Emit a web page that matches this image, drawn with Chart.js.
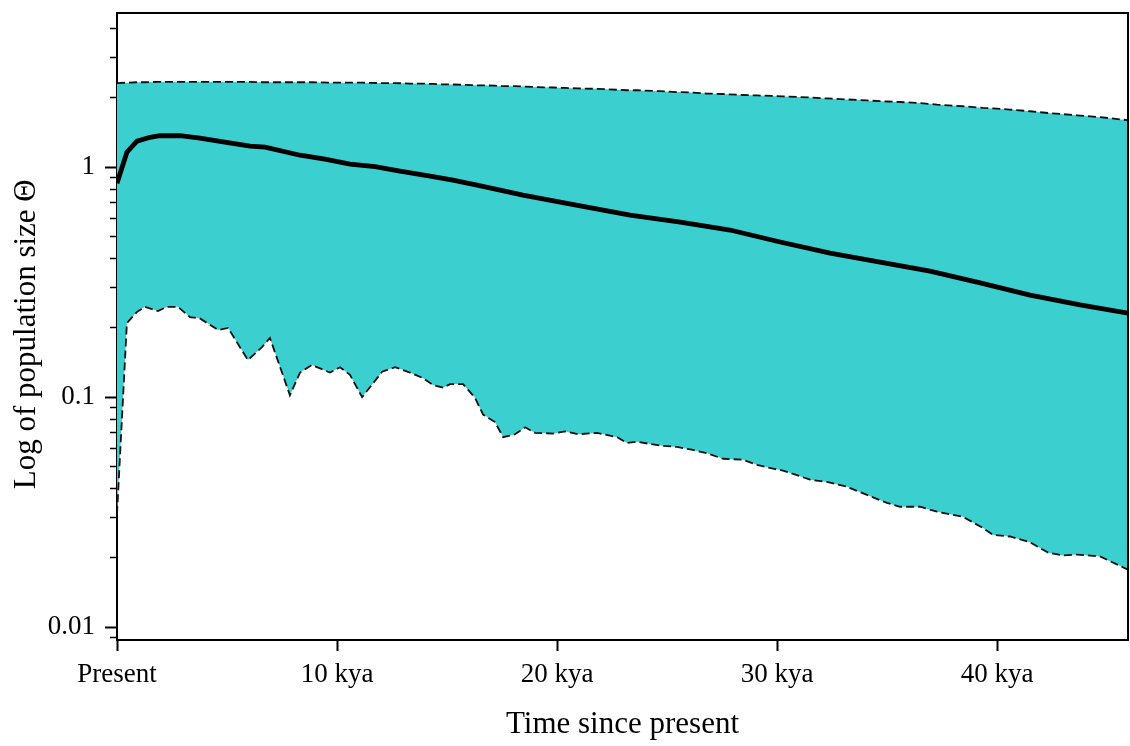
<!DOCTYPE html>
<html>
<head>
<meta charset="utf-8">
<title>Population size through time</title>
<script src="https://cdn.jsdelivr.net/npm/chart.js@4.4.1/dist/chart.umd.min.js"></script>
<style>
  html, body { margin: 0; padding: 0; background: #fff; }
  canvas { display: block; }
</style>
</head>
<body>
<canvas id="chart" width="1130" height="746"></canvas>
<script>
// time points (kya) for the confidence band
const bandTime = [0, 0.45, 0.91, 1.27, 1.86, 2.27, 2.77, 3.32, 3.77, 4.59, 5.05, 5.95, 6.59, 6.95,
  7.86, 8.32, 8.86, 9.68, 10.14, 10.59, 11.14, 12.05, 12.64, 13.32, 13.91, 14.36, 14.82, 15.14,
  15.73, 16.27, 16.64, 17.18, 17.55, 18.09, 18.55, 19.0, 19.82, 20.36, 20.95, 21.82, 22.73, 23.18,
  23.64, 24.68, 25.45, 26.18, 26.82, 27.55, 28.45, 29.09, 29.77, 30.27, 31.5, 32.27, 33.18, 34.09,
  35.0, 35.59, 36.5, 37.27, 38.45, 39.36, 39.82, 40.59, 41.5, 42.32, 43.0, 43.64, 44.68, 45.95];

const upperBound = [2.32, 2.33, 2.34, 2.34, 2.35, 2.35, 2.35, 2.35, 2.35, 2.35, 2.35, 2.35, 2.34, 2.34,
  2.34, 2.34, 2.34, 2.33, 2.33, 2.33, 2.33, 2.32, 2.32, 2.31, 2.31, 2.30, 2.29, 2.29,
  2.28, 2.27, 2.27, 2.26, 2.25, 2.25, 2.24, 2.23, 2.22, 2.21, 2.20, 2.19, 2.17, 2.16,
  2.16, 2.14, 2.12, 2.11, 2.09, 2.08, 2.06, 2.05, 2.04, 2.03, 2.01, 1.99, 1.97, 1.95,
  1.93, 1.92, 1.90, 1.87, 1.84, 1.81, 1.80, 1.78, 1.75, 1.72, 1.70, 1.68, 1.65, 1.60];

const lowerBound = [0.031, 0.21, 0.235, 0.247, 0.237, 0.247, 0.247, 0.223, 0.22, 0.196, 0.2, 0.145, 0.165, 0.181,
  0.102, 0.128, 0.138, 0.128, 0.135, 0.125, 0.1, 0.129, 0.135, 0.128, 0.121, 0.113, 0.11, 0.114,
  0.114, 0.0994, 0.084, 0.078, 0.067, 0.069, 0.074, 0.07, 0.0695, 0.071, 0.069, 0.07, 0.067, 0.0633,
  0.064, 0.0616, 0.0608, 0.059, 0.057, 0.054, 0.0535, 0.0508, 0.049, 0.048, 0.0438, 0.0428, 0.0408, 0.0376,
  0.0347, 0.0334, 0.0334, 0.0318, 0.0302, 0.027, 0.0252, 0.0248, 0.0234, 0.0211, 0.0205, 0.0207, 0.0203, 0.0178];

// median estimate
const meanTime = [0, 0.45, 0.91, 1.5, 1.95, 2.86, 3.77, 4.9, 6.05, 6.73, 8.32, 9.45, 10.59, 11.73,
  12.86, 14.23, 15.27, 16.36, 17.41, 18.45, 19.9, 21.36, 23.32, 25.6, 27.86, 30.14, 32.41, 34.68,
  36.95, 39.23, 41.5, 43.77, 45.95];
const meanSize = [0.852, 1.162, 1.297, 1.349, 1.37, 1.37, 1.337, 1.284, 1.234, 1.222, 1.127, 1.083, 1.03, 1.005,
  0.961, 0.914, 0.878, 0.835, 0.795, 0.756, 0.712, 0.67, 0.619, 0.577, 0.533, 0.473, 0.423, 0.387,
  0.353, 0.314, 0.278, 0.252, 0.232];

const xTickValues = [0, 10, 20, 30, 40];
const xTickLabels = ['Present', '10 kya', '20 kya', '30 kya', '40 kya'];
const yMajorValues = [0.01, 0.1, 1];
const yMajorLabels = ['0.01', '0.1', '1'];
const yMinorValues = [0.009, 0.02, 0.03, 0.04, 0.05, 0.06, 0.07, 0.08, 0.09,
  0.2, 0.3, 0.4, 0.5, 0.6, 0.7, 0.8, 0.9, 2, 3, 4];

const serif = "'Liberation Serif', 'Times New Roman', serif";
const bandColor = '#3ccfcf';

const toPoints = (xs, ys) => xs.map((x, i) => ({ x: x, y: ys[i] }));

// fixed box sizes so the plot frame lands where it should
const fixWidth = (w) => (scale) => { scale.width = w; scale.paddingTop = 0; scale.paddingBottom = 0; };

// top and right spines of the frame
const frame = {
  id: 'frame',
  afterDraw(chart) {
    const { ctx, chartArea: a } = chart;
    ctx.save();
    ctx.strokeStyle = '#000';
    ctx.lineWidth = 2;
    ctx.beginPath();
    ctx.moveTo(a.left, a.top);
    ctx.lineTo(a.right, a.top);
    ctx.lineTo(a.right, a.bottom);
    ctx.stroke();
    ctx.restore();
  }
};

new Chart(document.getElementById('chart'), {
  type: 'line',
  data: {
    datasets: [
      {
        data: toPoints(meanTime, meanSize),
        borderColor: '#000',
        borderWidth: 4.8,
        pointRadius: 0,
        tension: 0,
        fill: false
      },
      {
        data: toPoints(bandTime, upperBound),
        borderColor: '#111',
        borderWidth: 1.8,
        borderDash: [8, 4],
        backgroundColor: bandColor,
        pointRadius: 0,
        tension: 0,
        fill: '+1'
      },
      {
        data: toPoints(bandTime, lowerBound),
        borderColor: '#111',
        borderWidth: 1.8,
        borderDash: [8, 4],
        pointRadius: 0,
        tension: 0,
        fill: false
      }
    ]
  },
  options: {
    responsive: false,
    animation: false,
    layout: { padding: { top: 13, right: 2, left: 0, bottom: 0 } },
    plugins: {
      legend: { display: false },
      tooltip: { enabled: false },
      filler: { drawTime: 'beforeDatasetsDraw' }
    },
    scales: {
      x: {
        type: 'linear',
        min: 0,
        max: 45.95,
        afterFit: (scale) => { scale.height = 106; scale.paddingLeft = 0; scale.paddingRight = 0; },
        afterBuildTicks: (scale) => { scale.ticks = xTickValues.map(v => ({ value: v })); },
        ticks: {
          color: '#000',
          font: { family: serif, size: 27 },
          padding: 8,
          maxRotation: 0,
          autoSkip: false,
          callback: (v) => xTickLabels[xTickValues.indexOf(v)]
        },
        grid: { display: true, drawOnChartArea: false, tickLength: 11, tickWidth: 2, tickColor: '#000' },
        border: { display: true, color: '#000', width: 2 },
        title: {
          display: true,
          text: 'Time since present',
          color: '#000',
          font: { family: serif, size: 31 },
          padding: { top: 0, bottom: 3 }
        }
      },
      y: {
        type: 'logarithmic',
        position: 'left',
        weight: 1,
        min: 0.0088,
        max: 4.68,
        afterFit: fixWidth(117),
        afterBuildTicks: (scale) => { scale.ticks = yMajorValues.map(v => ({ value: v })); },
        ticks: {
          color: '#000',
          font: { family: serif, size: 27 },
          padding: 10,
          autoSkip: false,
          callback: (v) => yMajorLabels[yMajorValues.indexOf(v)]
        },
        grid: { display: true, drawOnChartArea: false, tickLength: 12, tickWidth: 2, tickColor: '#000' },
        border: { display: true, color: '#000', width: 2 },
        title: {
          display: true,
          text: 'Log of population size Θ\u2002',
          color: '#000',
          font: { family: serif, size: 31 },
          padding: { top: 8, bottom: 0 }
        }
      },
      yMinor: {
        type: 'logarithmic',
        position: 'left',
        weight: 0,
        min: 0.0088,
        max: 4.68,
        afterFit: fixWidth(0),
        afterBuildTicks: (scale) => { scale.ticks = yMinorValues.map(v => ({ value: v })); },
        ticks: { display: false },
        grid: { display: true, drawOnChartArea: false, tickLength: 7, tickWidth: 1.5, tickColor: '#000' },
        border: { display: false }
      }
    }
  },
  plugins: [frame]
});
</script>
</body>
</html>
